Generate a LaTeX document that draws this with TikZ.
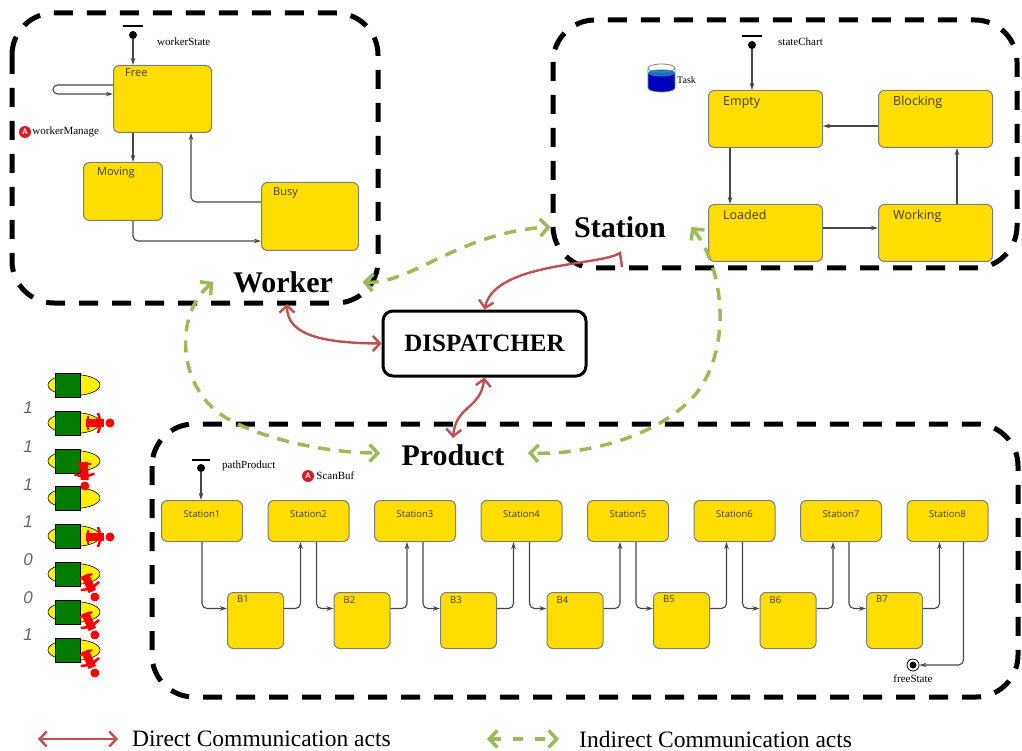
\documentclass[tikz,border=0pt]{standalone}
\usepackage{fontspec}
\setmainfont{Liberation Serif}
\setsansfont{Liberation Sans}
\newfontfamily\uifont{Open Sans}
\usetikzlibrary{arrows.meta,positioning}

\definecolor{stateyellow}{RGB}{255,221,0}
\definecolor{stateedge}{RGB}{125,125,125}
\definecolor{wire}{RGB}{70,70,70}
\definecolor{statetext}{RGB}{70,60,20}
\definecolor{directred}{RGB}{192,80,77}
\definecolor{indirectgreen}{RGB}{155,187,89}
\definecolor{agentred}{RGB}{220,25,35}
\definecolor{cartgreen}{RGB}{0,125,0}
\definecolor{cartyellow}{RGB}{255,240,0}

\tikzset{
  zone/.style={draw=black, line width=5pt, dash pattern=on 19pt off 14pt, rounded corners=42pt},
  chartstate/.style={draw=stateedge, fill=stateyellow, rounded corners=6pt, line width=1pt,
    anchor=north west, inner sep=0pt},
  statelbl/.style={anchor=north west, inner sep=0pt, text=statetext, font=\uifont\fontsize{11}{13}\selectfont},
  stnlbl/.style={anchor=north, inner sep=0pt, yshift=-10pt, text=statetext, font=\uifont\fontsize{9.5}{11}\selectfont},
  stn/.style={chartstate, minimum width=81pt, minimum height=41pt},
  buf/.style={chartstate, minimum width=56pt, minimum height=56pt},
  trans/.style={draw=wire, line width=1.1pt, -{Stealth[length=7pt,width=4.5pt]}, rounded corners=5pt},
  initdot/.style={circle, fill=black, inner sep=0pt, minimum size=8pt},
  tag/.style={anchor=west, inner sep=0pt, font=\fontsize{11}{12}\selectfont},
  agenticon/.style={circle, fill=agentred, text=white, inner sep=0pt, minimum size=12pt,
    font=\sffamily\bfseries\fontsize{8}{8}\selectfont},
  agentname/.style={font=\bfseries\fontsize{30}{32}\selectfont},
  dispatch/.style={draw, line width=3pt, rounded corners=10pt, minimum width=203pt, minimum height=65pt,
    font=\bfseries\fontsize{25}{27}\selectfont},
  direct/.style={draw=directred, line width=2.4pt, >={Straight Barb[length=7pt,width=15pt]}, <->},
  indirect/.style={draw=indirectgreen, line width=3.5pt, dash pattern=on 12pt off 9pt,
    >={Straight Barb[length=8pt,width=17pt]}, <->},
  legendtext/.style={anchor=west, inner sep=0pt, font=\fontsize{23.5}{25}\selectfont},
  walker/.pic={
    \fill[red] (0,-4) rectangle (18,4);
    \draw[red, line width=2.5pt] (12,-10) -- (15,0) -- (12,10);
    \draw[red, line width=2pt] (2,-7) -- (2,7);
    \fill[red] (24,0) circle (4.5);
  }
}

\begin{document}
\begin{tikzpicture}[x=1pt, y=-1pt]
\useasboundingbox (0,0) rectangle (1022,751);

% agent zones
\draw[zone] (12,13) rectangle (378,303);
\draw[zone] (553,20) rectangle (1017,268);
\draw[zone] (152,424) rectangle (1018,697);

% --- worker state chart
\node[initdot] (wInit) at (133,35) {};
\draw[line width=1.6pt] ([yshift=9pt]wInit.center) ++(-10,0) -- ++(20,0);
\node[tag] (wName) at (157,42) {workerState};
\node[chartstate, minimum width=98pt, minimum height=67pt,
  label={[statelbl,xshift=12pt,yshift=-3pt]north west:Free}] (free) at (113,65) {};
\node[chartstate, minimum width=79pt, minimum height=58pt,
  label={[statelbl,xshift=14pt,yshift=-5pt]north west:Moving}] (moving) at (83,162) {};
\node[chartstate, minimum width=97pt, minimum height=68pt,
  label={[statelbl,xshift=12pt,yshift=-5pt]north west:Busy}] (busy) at (261,182) {};
\node[agenticon] (wmIcon) at (25,132) {A};
\node[tag, right=1pt of wmIcon] (wmName) {workerManage};

\draw[trans] (wInit) -- (wInit |- free.north);
\draw[trans, rounded corners=4.5pt] ([yshift=-20pt]free.north west) -- ++(-60,0) -- ++(0,9)
  -- ([yshift=-29pt]free.north west);
\draw[trans] ([xshift=20pt]free.south west) -- ([xshift=20pt]free.south west |- moving.north);
\draw[trans] ([xshift=50pt]moving.south west) |- ([yshift=10pt]busy.south west);
\draw[trans] ([yshift=-20pt]busy.north west) -| ([xshift=78pt]free.south west);

% --- station state chart
\node[initdot] (sInit) at (752,45) {};
\draw[line width=1.6pt] ([yshift=9pt]sInit.center) ++(-10,0) -- ++(20,0);
\node[tag] (sName) at (778,42) {stateChart};
\fill[blue!75!black] (648,73) rectangle (675,88);
\fill[blue!75!black] (661.5,88) ellipse (13.5 and 4);
\fill[cyan!55!blue] (661.5,73) ellipse (13.5 and 3.5);
\draw[gray, line width=0.8pt] (661.5,68) ellipse (13.5 and 4);
\draw[gray, line width=0.8pt] (648,68) -- (648,88) arc[start angle=180, end angle=0, x radius=13.5, y radius=4] -- (675,68);
\node[tag, font=\fontsize{10}{11}\selectfont] (taskName) at (677,80) {Task};
\foreach \nm/\txt/\x/\y in {empty/Empty/708/90, blocking/Blocking/878/90,
                            loaded/Loaded/708/204, working/Working/878/204}
  \node[chartstate, minimum width=114pt, minimum height=57pt,
    label={[statelbl,xshift=15pt,yshift=-6pt,font=\uifont\fontsize{12.5}{14}\selectfont]north west:\txt}]
    (\nm) at (\x,\y) {};

\draw[trans] (sInit) -- (sInit |- empty.north);
\draw[trans] ([xshift=22pt]empty.south west) -- ([xshift=22pt]empty.south west |- loaded.north);
\draw[trans] ([yshift=5pt]loaded.east) -- ([yshift=5pt]working.west);
\draw[trans] ([xshift=79pt]working.north west) -- ([xshift=79pt]blocking.south west);
\draw[trans] ([yshift=-7pt]blocking.west) -- ([yshift=-7pt]empty.east);

% --- product flow line
\node[initdot] (pInit) at (201,468) {};
\draw[line width=1.6pt] ([yshift=8pt]pInit.center) ++(-9,0) -- ++(18,0);
\node[tag] (pName) at (222,466) {pathProduct};
\node[agenticon] (sbIcon) at (308,476) {A};
\node[tag, right=2pt of sbIcon] (sbName) {ScanBuf};
\foreach \i in {1,...,8}
  \node[stn, label={[stnlbl]north:Station\i}] (st\i) at ({161+(\i-1)*106.5},500) {};
\foreach \i in {1,...,7}
  \node[buf, label={[statelbl,xshift=10pt,yshift=-4pt,font=\uifont\fontsize{9.5}{11}\selectfont]north west:B\i}]
    (b\i) at ({227+(\i-1)*106.5},592) {};
\node[circle, draw=black, fill=white, line width=0.8pt, minimum size=12pt, inner sep=0pt] (fin) at (913,665) {};
\fill (fin.center) circle (3.5);
\node[tag, below=3pt of fin] (finName) {freeState};

\draw[trans] (pInit) -- (pInit |- st1.north);
\draw[trans] ([xshift=41pt]st1.south west) |- ([yshift=12pt]b1.west);
\foreach \i in {2,...,7}
  \draw[trans] ([xshift=49pt]st\i.south west) |- ([yshift=12pt]b\i.west);
\foreach \i [evaluate=\i as \j using int(\i+1)] in {1,...,7}
  \draw[trans] ([yshift=12pt]b\i.east) -| ([xshift=33pt]st\j.south west);
\draw[trans] ([xshift=57pt]st8.south west) |- (fin.east);

% --- cart states on the left
\foreach \y [count=\k] in {385,423,461,498,536,574,612,650} {
  \filldraw[fill=cartyellow, draw=black, line width=0.6pt] (74,\y) ellipse (26 and 10.5);
  \filldraw[fill=cartgreen, draw=black, line width=0.6pt] (55,\y-12) rectangle (80,\y+12);
}
\pic at (86,423) {walker};
\pic[rotate=-88] at (84,462) {walker};
\pic at (86,537) {walker};
\foreach \y in {575,613,651}
  \pic[rotate=-66] at (85,\y) {walker};
\foreach \v/\y [count=\k] in {1/408,1/447,1/485,1/522,0/560,0/598,1/635}
  \node[font=\sffamily\itshape\fontsize{17}{18}\selectfont, text=black!60] (bit\k) at (28,\y) {\v};

% --- agents and dispatcher
\node[agentname] (wlabel) at (283,282) {Worker};
\node[agentname] (slabel) at (620,227) {Station};
\node[agentname] (plabel) at (453,455) {Product};
\node[dispatch] (disp) at (484.5,343.5) {DISPATCHER};
\coordinate (wDisp) at (287,304);
\coordinate (sDisp) at (620,253);

% direct acts
\draw[direct] (wDisp) .. controls (287,335) and (322,343) .. (disp.west);
\draw[direct, -> ] ([xshift=2pt,yshift=-14pt]sDisp) -- (sDisp) .. controls (600,266) and (495,262) .. (disp.north);
\draw[direct] (disp.south) .. controls (480,410) and (456,405) .. ([yshift=3pt]plabel.north);

% indirect acts
\draw[indirect] ([xshift=26pt]wlabel.east) .. controls (410,285) and (460,232) .. ([xshift=-20pt]slabel.west);
\draw[indirect] ([xshift=-16pt]wlabel.west) .. controls (178,310) and (175,375) .. (215,410)
  .. controls (245,435) and (320,453) .. ([xshift=-18pt,yshift=2pt]plabel.west);
\draw[indirect] ([xshift=22pt]slabel.east) .. controls (725,270) and (732,350) .. (695,395)
  .. controls (655,440) and (580,455) .. ([xshift=20pt,yshift=2pt]plabel.east);

% legend
\node[legendtext] (dleg) at (132,739) {Direct Communication acts};
\draw[direct] ([xshift=-94pt]dleg.west) -- ([xshift=-14pt]dleg.west);
\node[legendtext] (ileg) at (579,739) {Indirect Communication acts};
\draw[indirect, dash pattern=on 10pt off 12pt] ([xshift=-92pt]ileg.west) -- ([xshift=-20pt]ileg.west);
\end{tikzpicture}
\end{document}
